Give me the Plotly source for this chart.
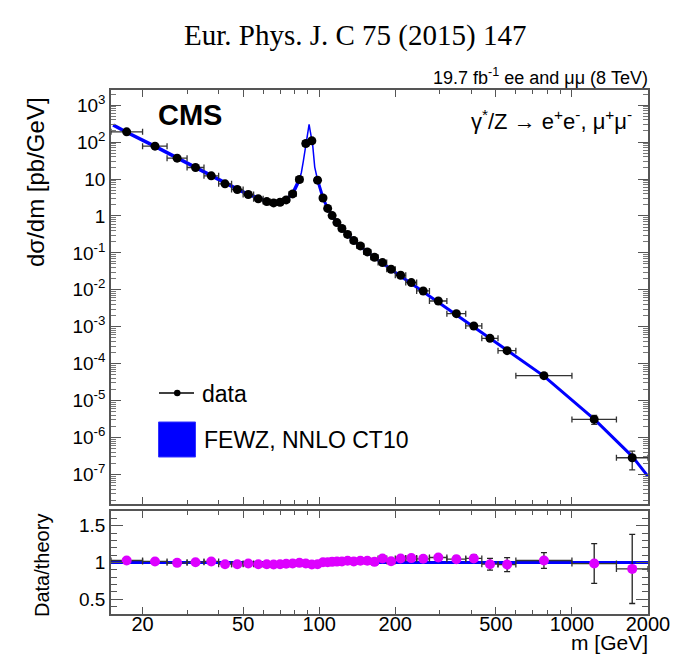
import math
import plotly.graph_objects as go

# ---------------- data ----------------
bin_lo = [15, 20, 25, 30, 35, 40, 45, 50, 55, 60, 64, 68, 72, 76, 81, 86, 91, 96, 101, 106,
          110, 115, 120, 126, 133, 141, 150, 160, 171, 185, 200, 220, 243, 273, 320, 380,
          440, 510, 600, 1000, 1500]
bin_hi = [20, 25, 30, 35, 40, 45, 50, 55, 60, 64, 68, 72, 76, 81, 86, 91, 96, 101, 106, 110,
          115, 120, 126, 133, 141, 150, 160, 171, 185, 200, 220, 243, 273, 320, 380, 440,
          510, 600, 1000, 1500, 2000]
mass = [17.3, 22.4, 27.4, 32.4, 37.4, 42.4, 47.4, 52.4, 57.4, 62, 66, 70, 74, 78.5, 83.5,
        88.5, 93.5, 98.5, 103.5, 108, 112.5, 117.5, 123, 129.5, 137, 145.5, 155, 165.5,
        178, 192.5, 210, 231.5, 258, 296, 349, 409, 474, 554, 775, 1225, 1732]
xsec = [189, 77.4, 36.6, 20.5, 12.2, 7.4, 5.2, 3.8, 2.9, 2.45, 2.25, 2.35, 2.72, 3.95, 9.7,
        91.6, 108, 9.3, 3.07, 1.6, 1.02, 0.66, 0.456, 0.316, 0.215, 0.154, 0.106, 0.076,
        0.0546, 0.036, 0.0247, 0.0157, 0.0093, 0.00498, 0.00226, 0.00105, 4.85e-4, 2.25e-4,
        4.73e-5, 3.09e-6, 2.83e-7]
xsec_err_up = [0]*38 + [4e-6, 0.87e-6, 1.45e-7]
xsec_err_dn = [0]*38 + [4e-6, 0.83e-6, 1.5e-7]
ratio = [1.027, 1.014, 0.995, 1.004, 1.014, 0.977, 0.977, 0.986, 0.977, 0.977, 0.972, 0.977,
         0.982, 0.986, 0.995, 0.986, 0.972, 0.977, 1.004, 1.004, 1.009, 1.012, 1.014, 1.023,
         1.014, 1.023, 1.023, 1.009, 1.055, 1.018, 1.055, 1.06, 1.05, 1.068, 1.045, 1.055,
         0.977, 0.972, 1.027, 0.986, 0.913]
ratio_err = [0.01]*28 + [0.02, 0.02, 0.025, 0.025, 0.03, 0.035, 0.04, 0.05, 0.08, 0.095,
                         0.107, 0.27, 0.47]

theory_m = [15.3, 17.3, 22.4, 27.4, 32.4, 37.4, 42.4, 47.4, 52.4, 57.4, 62, 66, 70, 74, 78.5,
            83.5]
theory_xs = [290, 184, 76.3, 36.8, 20.4, 12.0, 7.57, 5.32, 3.85, 2.97, 2.51, 2.31, 2.41, 2.77,
             4.0, 9.75]
peak_m = [83.5, 85, 86.5, 88, 89.5, 90.5, 91.2, 92, 93, 94.2, 96, 98.5]
peak_xs = [9.75, 15, 30, 60, 120, 220, 300, 210, 130, 85, 21, 9.5]
tail_m = [98.5, 103.5, 108, 112.5, 117.5, 123, 129.5, 137, 145.5, 155, 165.5, 178, 192.5,
          210, 231.5, 258, 296, 349, 409, 474, 554, 775, 1000, 1225, 1732, 2000]
tail_xs = [9.5, 3.06, 1.59, 1.01, 0.652, 0.45, 0.309, 0.212, 0.1505, 0.1036, 0.0753, 0.0518,
           0.0354, 0.0234, 0.0148, 0.00886, 0.00466, 0.00216, 0.000995, 4.96e-4, 2.31e-4,
           4.6e-5, 1.06e-5, 3.13e-6, 3.1e-7, 8.9e-8]
ratio_line_m = [15, 2000]
ratio_line_v = [1.0, 1.0]

x_tick_vals = [20, 50, 100, 200, 500, 1000, 2000]
x_tick_text = ["20", "50", "100", "200", "500", "1000", "2000"]
x_minor_vals = [30, 40, 60, 70, 80, 90, 300, 400, 600, 700, 800, 900]
y_tick_vals = [1e-7, 1e-6, 1e-5, 1e-4, 1e-3, 1e-2, 1e-1, 1, 10, 100, 1000]
y_tick_text = ["10<sup>-7</sup>", "10<sup>-6</sup>", "10<sup>-5</sup>", "10<sup>-4</sup>",
               "10<sup>-3</sup>", "10<sup>-2</sup>", "10<sup>-1</sup>", "1", "10",
               "10<sup>2</sup>", "10<sup>3</sup>"]
y_minor_vals = [k * 10.0 ** e for e in range(-8, 4) for k in range(2, 10)]
r_tick_vals = [0.5, 1.0, 1.5]
r_tick_text = ["0.5", "1", "1.5"]
r_minor_vals = [0.4, 0.6, 0.7, 0.8, 0.9, 1.1, 1.2, 1.3, 1.4, 1.6]

# ---------------- figure ----------------
W, H = 690, 662
def px(x): return x / W
def py(y): return 1 - y / H

FONT = "Liberation Sans, Arial, sans-serif"
BLUE = "#0000ff"
MAG = "#dd00ff"

ex_plus = [h - m for h, m in zip(bin_hi, mass)]
ex_minus = [m - l for m, l in zip(mass, bin_lo)]

fig = go.Figure()

fig.add_trace(go.Scatter(x=theory_m, y=theory_xs, mode="lines",
                         line=dict(color=BLUE, width=3.5), xaxis="x", yaxis="y", showlegend=False))
fig.add_trace(go.Scatter(x=peak_m, y=peak_xs, mode="lines",
                         line=dict(color=BLUE, width=1.5), xaxis="x", yaxis="y", showlegend=False))
fig.add_trace(go.Scatter(x=tail_m, y=tail_xs, mode="lines",
                         line=dict(color=BLUE, width=3), xaxis="x", yaxis="y", showlegend=False))

fig.add_trace(go.Scatter(
    x=mass, y=xsec, mode="markers",
    marker=dict(color="black", size=9),
    error_x=dict(type="data", symmetric=False, array=ex_plus, arrayminus=ex_minus,
                 color="#333333", thickness=1.3, width=3),
    error_y=dict(type="data", symmetric=False, array=xsec_err_up, arrayminus=xsec_err_dn,
                 color="#333333", thickness=1.3, width=3),
    xaxis="x", yaxis="y", showlegend=False))

fig.add_trace(go.Scatter(x=ratio_line_m, y=ratio_line_v, mode="lines",
                         line=dict(color=BLUE, width=3), xaxis="x2", yaxis="y2", showlegend=False))
fig.add_trace(go.Scatter(
    x=mass, y=ratio, mode="markers",
    marker=dict(color=MAG, size=10),
    error_x=dict(type="data", symmetric=False, array=ex_plus, arrayminus=ex_minus,
                 color="#333333", thickness=1.3, width=3),
    error_y=dict(type="data", array=ratio_err, color="#222222", thickness=1.3, width=3),
    xaxis="x2", yaxis="y2", showlegend=False))

axis_common = dict(showline=True, linecolor="#555555", linewidth=1.5, mirror="ticks",
                   ticks="inside", tickcolor="#555555", tickwidth=1.2, showgrid=False,
                   zeroline=False, automargin=False)
xr = [math.log10(15), math.log10(2000)]
xdom = [px(111), px(648)]

fig.update_layout(
    width=W, height=H, autosize=False, margin=dict(l=0, r=0, t=0, b=0, pad=0),
    showlegend=False,
    paper_bgcolor="white", plot_bgcolor="white",
    font=dict(family=FONT, color="black"),
    xaxis=dict(domain=xdom, anchor="y", type="log", range=xr, tickmode="array",
               tickvals=x_tick_vals, ticktext=x_tick_text, showticklabels=False, ticklen=7,
               minor=dict(ticks="inside", tickmode="array", tickvals=x_minor_vals, ticklen=4,
                          tickcolor="#555555"), **axis_common),
    yaxis=dict(domain=[py(504), py(90)], anchor="x", type="log", range=[-7.8, 3.41],
               tickmode="array", tickvals=y_tick_vals, ticktext=y_tick_text, ticklen=10,
               tickfont=dict(size=19, family=FONT),
               minor=dict(ticks="inside", tickmode="array", tickvals=y_minor_vals, ticklen=5,
                          tickcolor="#777777"),
               **axis_common),
    xaxis2=dict(domain=xdom, anchor="y2", type="log", range=xr,
                tickmode="array", tickvals=x_tick_vals, ticktext=x_tick_text, ticklen=7,
                tickfont=dict(size=20, family=FONT), ticklabelstandoff=-9,
                minor=dict(ticks="inside", tickmode="array", tickvals=x_minor_vals, ticklen=4,
                           tickcolor="#555555"), **axis_common),
    yaxis2=dict(domain=[py(614), py(511)], anchor="x2", range=[0.3, 1.7],
                tickmode="array", tickvals=r_tick_vals, ticktext=r_tick_text, ticklen=12,
                tickfont=dict(size=19, family=FONT),
                minor=dict(ticks="inside", tickmode="array", tickvals=r_minor_vals, ticklen=6,
                           tickcolor="#555555"), **axis_common),
)

ann = []
def add_text(text, x, y, xanchor="center", size=19, family=FONT, angle=0):
    ann.append(dict(text=text, x=px(x), y=py(y), xref="paper", yref="paper",
                    xanchor=xanchor, yanchor="middle", showarrow=False, textangle=angle,
                    font=dict(size=size, family=family, color="black")))

add_text("Eur. Phys. J. C 75 (2015) 147", 355, 36, size=29, family="Liberation Serif, serif")
add_text("19.7 fb<sup>-1</sup> ee and μμ (8 TeV)", 650, 76, xanchor="right", size=18)
add_text("<b>CMS</b>", 156, 115, xanchor="left", size=29)
add_text("γ<sup>*</sup>/Z → e<sup>+</sup>e<sup>-</sup>, μ<sup>+</sup>μ<sup>-</sup>", 634, 120,
         xanchor="right", size=22)
add_text("dσ/dm [pb/GeV]", 35, 182, size=24, angle=-90)
add_text("Data/theory", 42, 566, size=20, angle=-90)
add_text("m [GeV]", 650, 642, xanchor="right", size=21)
add_text("data", 200, 394, xanchor="left", size=23)
add_text("FEWZ, NNLO CT10", 202, 440, xanchor="left", size=23)
fig.update_layout(annotations=ann)

shapes = [
    dict(type="line", xref="paper", yref="paper", x0=px(159), x1=px(194), y0=py(393),
         y1=py(393), line=dict(color="black", width=1.5)),
    dict(type="circle", xref="paper", yref="paper", x0=px(174), x1=px(180.5), y0=py(396.3),
         y1=py(389.8), fillcolor="black", line=dict(color="black", width=0)),
    dict(type="rect", xref="paper", yref="paper", x0=px(158.5), x1=px(195.5), y0=py(457),
         y1=py(422), fillcolor=BLUE, line=dict(color="#3333ff", width=1)),
]
fig.update_layout(shapes=shapes)

fig.write_html("out.html")
